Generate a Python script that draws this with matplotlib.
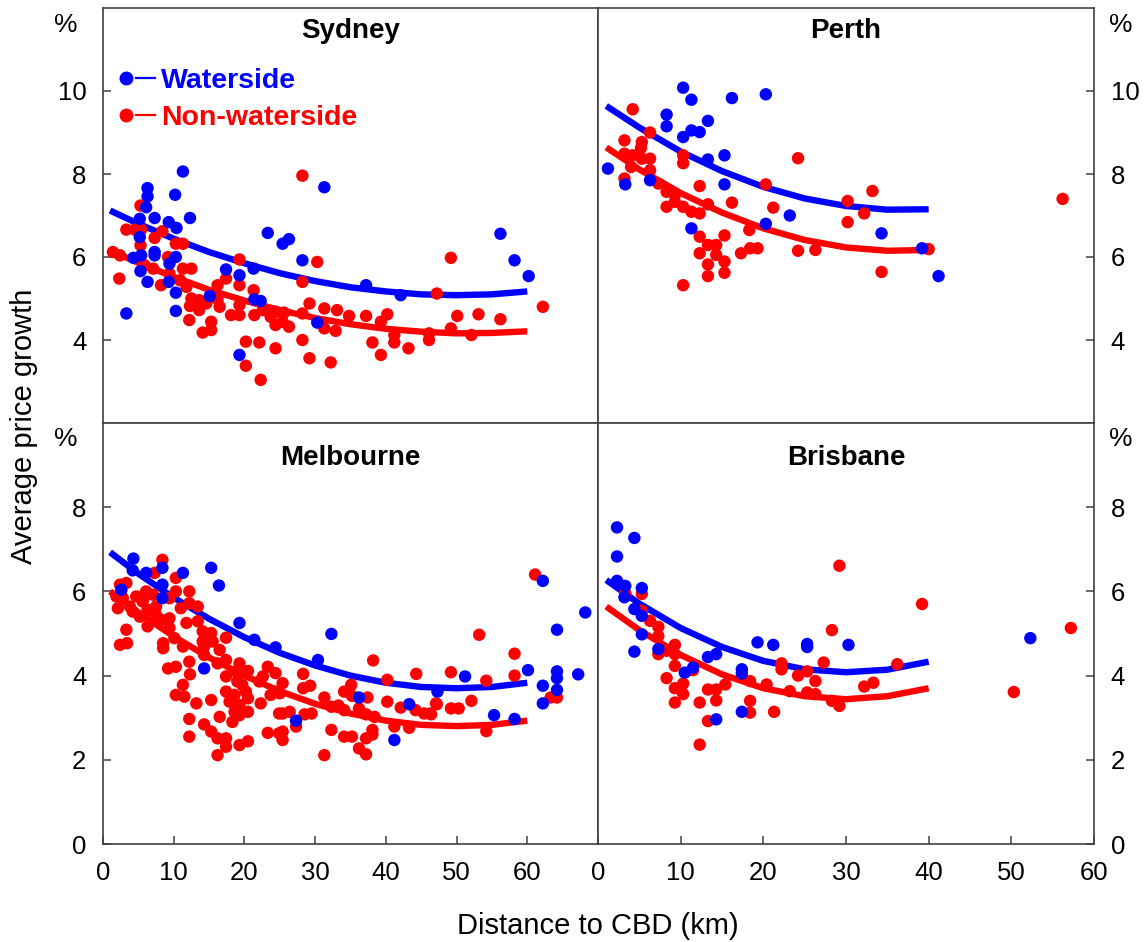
import numpy as np
import matplotlib
matplotlib.use('Agg')
import matplotlib.pyplot as plt

plt.rcParams['font.family'] = ['Liberation Sans', 'DejaVu Sans']

BLUE = '#0000ff'
RED = '#ff0000'
FRAME = '#404040'

# ---- data: (distance km, growth %) ----
syd_water = [(11.3, 8.06), (6.3, 7.66), (6.3, 7.46), (10.2, 7.50), (6.1, 7.20), (5.2, 6.92),
             (7.3, 6.94), (12.3, 6.94), (9.3, 6.84), (10.4, 6.70), (5.2, 6.48), (7.3, 6.12),
             (7.3, 6.04), (4.3, 5.98), (5.4, 6.04), (10.3, 6.00), (9.4, 5.84), (5.3, 5.66),
             (6.3, 5.40), (9.3, 5.40), (10.3, 5.14), (3.3, 4.64), (10.3, 4.70), (15.1, 5.06),
             (17.4, 5.70), (19.3, 5.56), (21.3, 5.72), (21.4, 4.98), (22.3, 4.94), (23.3, 6.58),
             (25.4, 6.32), (26.3, 6.43), (28.2, 5.92), (31.3, 7.68), (30.3, 4.42), (19.3, 3.64),
             (56.2, 6.56), (58.2, 5.92), (60.2, 5.54), (37.2, 5.32), (42.1, 5.08)]
syd_non = [(28.2, 7.96), (5.3, 7.24), (3.3, 6.66), (4.5, 6.66), (5.4, 6.66), (7.3, 6.46),
           (8.4, 6.62), (5.3, 6.28), (10.3, 6.32), (11.3, 6.32), (1.4, 6.12), (2.4, 6.04),
           (9.2, 6.00), (2.3, 5.48), (5.9, 5.80), (7.1, 5.72), (8.2, 5.32), (9.4, 5.60),
           (11.3, 5.72), (12.5, 5.72), (10.9, 5.44), (11.8, 5.28), (19.3, 5.94), (19.3, 5.32),
           (17.4, 5.48), (16.2, 5.32), (21.3, 5.20), (12.5, 5.00), (12.3, 4.82), (13.6, 4.96),
           (13.6, 4.72), (14.6, 4.88), (16.2, 4.98), (16.5, 4.80), (12.2, 4.48), (15.3, 4.44),
           (14.1, 4.18), (15.3, 4.24), (18.1, 4.60), (19.3, 4.60), (19.3, 4.84), (21.4, 4.60),
           (22.6, 4.72), (23.7, 4.56), (24.4, 4.36), (25.4, 4.44), (26.3, 4.32), (24.4, 4.68),
           (25.6, 4.66), (28.2, 4.64), (28.2, 4.00), (29.2, 4.88), (31.3, 4.76), (33.1, 4.72),
           (34.8, 4.58), (32.9, 4.22), (31.3, 4.28), (24.4, 3.80), (20.2, 3.96), (22.1, 3.94),
           (28.2, 5.40), (30.3, 5.88), (29.2, 3.56), (32.2, 3.46), (20.2, 3.38), (22.3, 3.04),
           (49.2, 5.98), (47.2, 5.12), (62.2, 4.80), (37.2, 4.58), (40.2, 4.62), (39.3, 4.44),
           (38.1, 3.94), (39.3, 3.64), (41.2, 4.12), (41.2, 3.94), (43.2, 3.80), (46.1, 4.16),
           (46.1, 4.00), (49.2, 4.28), (50.1, 4.58), (52.1, 4.12), (53.1, 4.62), (56.2, 4.50)]

per_water = [(10.3, 10.08), (11.3, 9.79), (16.2, 9.83), (20.3, 9.92), (8.3, 9.43), (8.3, 9.15),
             (13.3, 9.28), (10.3, 8.89), (11.3, 9.05), (12.3, 9.01), (13.3, 8.35), (15.3, 8.45),
             (1.2, 8.13), (3.3, 7.75), (6.3, 7.85), (15.3, 7.75), (11.3, 6.69), (20.3, 6.80),
             (23.2, 7.00), (34.3, 6.57), (39.2, 6.21), (41.2, 5.54)]
per_non = [(4.2, 9.56), (6.3, 9.00), (3.2, 8.81), (5.3, 8.77), (5.2, 8.63), (3.2, 8.49),
           (4.2, 8.45), (5.3, 8.37), (6.3, 8.37), (4.0, 8.17), (6.3, 8.09), (10.3, 8.45),
           (10.3, 8.26), (3.2, 7.89), (7.3, 7.77), (8.3, 7.57), (9.3, 7.49), (8.3, 7.21),
           (9.3, 7.33), (10.3, 7.21), (11.3, 7.09), (12.3, 7.05), (13.3, 7.27), (12.3, 7.71),
           (16.2, 7.31), (20.3, 7.75), (21.2, 7.19), (24.2, 8.38), (18.3, 6.65), (12.3, 6.49),
           (15.3, 6.52), (13.3, 6.29), (14.3, 6.29), (12.3, 6.09), (14.3, 6.05), (13.3, 5.82),
           (15.3, 5.89), (13.3, 5.54), (15.3, 5.62), (10.3, 5.32), (17.3, 6.09), (18.4, 6.21),
           (19.3, 6.21), (24.2, 6.15), (26.3, 6.17), (30.2, 7.35), (30.2, 6.84), (32.2, 7.05),
           (33.2, 7.59), (34.3, 5.64), (40.0, 6.19), (56.2, 7.40)]

mel_water = [(4.3, 6.78), (8.4, 6.56), (11.3, 6.44), (15.3, 6.56), (16.4, 6.14), (6.1, 6.44),
             (8.4, 6.16), (2.6, 6.04), (8.4, 5.84), (19.3, 5.25), (14.3, 4.17), (21.4, 4.85),
             (24.4, 4.67), (4.2, 6.50), (32.3, 4.99), (30.4, 4.37), (36.2, 3.48), (43.3, 3.32),
             (27.3, 2.93), (41.2, 2.47), (47.3, 3.62), (62.2, 6.25), (68.2, 5.50), (64.2, 5.09),
             (60.1, 4.13), (64.2, 4.10), (64.2, 3.94), (67.2, 4.03), (62.2, 3.76), (64.2, 3.66),
             (62.2, 3.34), (51.2, 3.98), (55.3, 3.06), (58.2, 2.97)]
mel_non = [(8.4, 6.75), (7.3, 6.44), (10.3, 6.32), (2.4, 6.16), (3.3, 6.20), (1.9, 5.88),
           (2.8, 5.84), (4.7, 5.88), (6.1, 6.00), (7.1, 5.92), (9.4, 5.84), (10.3, 6.00),
           (12.2, 6.00), (2.1, 5.60), (3.8, 5.64), (5.2, 5.40), (6.3, 5.56), (7.5, 5.64),
           (9.4, 5.36), (11.0, 5.60), (13.4, 5.64), (12.2, 5.72), (3.3, 5.09), (6.3, 5.17),
           (2.4, 4.73), (3.4, 4.77), (8.5, 4.77), (8.5, 4.65), (10.1, 4.89), (11.3, 4.69),
           (13.4, 5.29), (15.3, 5.01), (17.4, 4.90), (14.3, 4.69), (16.5, 4.61), (14.3, 4.49),
           (9.2, 4.17), (10.3, 4.21), (12.2, 4.33), (12.3, 4.03), (17.4, 4.37), (16.2, 4.29),
           (17.4, 3.98), (19.3, 4.29), (20.5, 4.11), (19.0, 3.86), (23.3, 4.21), (24.4, 4.06),
           (11.3, 3.78), (10.3, 3.54), (11.5, 3.50), (13.2, 3.34), (15.3, 3.42), (17.4, 3.62),
           (18.6, 3.54), (17.9, 3.38), (20.2, 3.62), (19.3, 3.30), (22.3, 3.34), (23.7, 3.54),
           (16.5, 3.02), (12.2, 2.97), (14.3, 2.84), (18.3, 2.90), (19.3, 3.06), (20.5, 3.14),
           (15.3, 2.67), (16.2, 2.51), (12.2, 2.55), (17.4, 2.51), (19.3, 2.35), (20.5, 2.44),
           (23.3, 2.64), (24.9, 3.10), (24.9, 2.63), (16.2, 2.11), (17.4, 2.31),
           (5.6, 5.76), (4.2, 5.52), (7.5, 5.44), (5.9, 5.88), (8.2, 5.33), (9.4, 5.13),
           (11.8, 5.25), (14.1, 5.05), (15.5, 4.81), (14.1, 4.81), (18.8, 4.10), (19.7, 3.78),
           (18.6, 3.14), (20.5, 3.46), (24.4, 3.62), (22.1, 3.86), (22.6, 3.98),
           (38.2, 4.36), (44.3, 4.04), (40.2, 3.90), (28.3, 4.04), (29.3, 3.76), (28.3, 3.70),
           (25.4, 3.82), (25.0, 3.58), (35.1, 3.78), (34.1, 3.62), (35.2, 3.52), (37.4, 3.48),
           (31.3, 3.48), (40.2, 3.38), (42.1, 3.24), (44.2, 3.18), (45.4, 3.10), (46.4, 3.08),
           (47.1, 3.34), (26.4, 3.14), (25.4, 3.10), (28.5, 3.08), (29.5, 3.10), (32.3, 3.26),
           (33.3, 3.29), (34.1, 3.18), (36.2, 3.22), (37.2, 3.08), (38.4, 3.02), (41.2, 2.79),
           (43.3, 2.76), (25.4, 2.67), (25.4, 2.47), (27.3, 2.79), (32.3, 2.71), (34.1, 2.55),
           (35.2, 2.55), (38.1, 2.71), (37.2, 2.51), (36.2, 2.27), (37.2, 2.13), (31.3, 2.11),
           (38.1, 2.60),
           (61.1, 6.40), (53.2, 4.97), (58.2, 4.52), (49.2, 4.08), (54.2, 3.88), (58.2, 4.00),
           (52.1, 3.40), (47.2, 3.32), (49.2, 3.22), (50.3, 3.22), (46.3, 3.10), (63.3, 3.48),
           (64.2, 3.48), (54.2, 2.68)]

bri_water = [(2.3, 7.52), (4.4, 7.27), (2.3, 6.83), (2.3, 6.25), (3.3, 6.13), (5.3, 6.08),
             (3.2, 5.86), (4.4, 5.58), (5.3, 5.42), (5.3, 4.98), (4.4, 4.57), (7.3, 4.63),
             (10.5, 4.07), (11.5, 4.19), (13.3, 4.44), (14.3, 4.51), (17.4, 4.15), (17.4, 4.05),
             (17.4, 3.14), (14.3, 2.96), (19.3, 4.79), (21.2, 4.73), (25.3, 4.75), (25.3, 4.68),
             (30.3, 4.73), (52.3, 4.89)]
bri_non = [(3.3, 5.95), (5.3, 5.94), (5.3, 5.54), (6.3, 5.30), (7.3, 5.16), (7.3, 4.94),
           (7.3, 4.51), (8.3, 4.59), (9.3, 4.73), (9.3, 4.51), (9.3, 4.23), (8.3, 3.94),
           (9.3, 3.70), (10.3, 3.81), (9.3, 3.36), (10.3, 3.56), (11.5, 4.13), (12.3, 3.36),
           (13.3, 3.67), (14.3, 3.67), (15.4, 3.79), (14.3, 3.41), (13.3, 2.92), (12.3, 2.36),
           (18.4, 3.87), (18.4, 3.40), (18.4, 3.12), (20.4, 3.79), (21.3, 3.14), (22.2, 4.29),
           (22.2, 4.15), (23.2, 3.63), (24.2, 4.00), (25.3, 4.10), (26.3, 3.87), (25.3, 3.60),
           (26.3, 3.56), (27.3, 4.31), (28.3, 5.08), (29.2, 6.61), (28.3, 3.40), (29.2, 3.28),
           (39.2, 5.70), (36.2, 4.27), (32.2, 3.74), (33.3, 3.83), (57.2, 5.13), (50.3, 3.61)]

# fitted trend lines
fit_x_long = [1, 5, 10, 15, 20, 25, 30, 35, 40, 45, 50, 55, 60]
fit_x_short = [1, 5, 10, 15, 20, 25, 30, 35, 40]
syd_fit_water = [7.12, 6.80, 6.44, 6.12, 5.85, 5.61, 5.42, 5.27, 5.17, 5.10, 5.08, 5.10, 5.17]
syd_fit_non = [6.16, 5.86, 5.52, 5.21, 4.95, 4.72, 4.53, 4.38, 4.27, 4.20, 4.16, 4.17, 4.21]
mel_fit_water = [6.93, 6.42, 5.85, 5.35, 4.91, 4.54, 4.24, 4.00, 3.83, 3.73, 3.70, 3.73, 3.83]
mel_fit_non = [6.00, 5.50, 4.93, 4.43, 4.00, 3.63, 3.33, 3.10, 2.93, 2.83, 2.80, 2.83, 2.93]
per_fit_water = [9.64, 9.12, 8.54, 8.07, 7.69, 7.41, 7.23, 7.14, 7.15]
per_fit_non = [8.64, 8.11, 7.54, 7.07, 6.69, 6.41, 6.23, 6.15, 6.17]
bri_fit_water = [6.27, 5.71, 5.13, 4.68, 4.35, 4.15, 4.08, 4.14, 4.33]
bri_fit_non = [5.64, 5.08, 4.49, 4.03, 3.70, 3.51, 3.44, 3.51, 3.70]

W, H = 1148, 942
fig = plt.figure(figsize=(W / 100, H / 100), dpi=100)


def px_axes(x0, y0, x1, y1):
    return fig.add_axes([x0 / W, 1 - y1 / H, (x1 - x0) / W, (y1 - y0) / H])


ax_syd = px_axes(103, 8, 598, 423)
ax_per = px_axes(598, 8, 1094, 423)
ax_mel = px_axes(103, 423, 598, 844)
ax_bri = px_axes(598, 423, 1094, 844)

panels = [
    (ax_syd, 'Sydney', syd_water, syd_non, fit_x_long, syd_fit_water, syd_fit_non, (0, 70), (2, 12), 0.928),
    (ax_per, 'Perth', per_water, per_non, fit_x_short, per_fit_water, per_fit_non, (0, 60), (2, 12), 0.928),
    (ax_mel, 'Melbourne', mel_water, mel_non, fit_x_long, mel_fit_water, mel_fit_non, (0, 70), (0, 10), 0.900),
    (ax_bri, 'Brisbane', bri_water, bri_non, fit_x_short, bri_fit_water, bri_fit_non, (0, 60), (0, 10), 0.900),
]

MS = 80
for ax, name, water, non, fx, fw, fn, xl, yl, ty in panels:
    wx, wy = np.array(water).T
    nx, ny = np.array(non).T
    ax.plot(fx, fw, color=BLUE, lw=4.6, solid_capstyle='butt', zorder=2)
    ax.plot(fx, fn, color=RED, lw=4.6, solid_capstyle='butt', zorder=2)
    ax.scatter(nx, ny, s=MS, color=RED, edgecolors='none', zorder=3)
    ax.scatter(wx, wy, s=MS, color=BLUE, edgecolors='none', zorder=4)
    ax.set_xlim(*xl)
    ax.set_ylim(*yl)
    ax.text(0.5, ty, name, transform=ax.transAxes, ha='center', va='baseline',
            fontsize=20, fontweight='bold')
    for sp in ax.spines.values():
        sp.set_color(FRAME)
        sp.set_linewidth(1.2)
    ax.tick_params(which='both', direction='in', length=6, width=1.1, color=FRAME,
                   pad=12, labelsize=18.5)

# y ticks
for ax in (ax_syd, ax_per):
    ax.set_yticks([4, 6, 8, 10])
for ax in (ax_mel, ax_bri):
    ax.set_yticks([0, 2, 4, 6, 8])
for ax in (ax_per, ax_bri):
    ax.yaxis.tick_right()
for ax in (ax_syd, ax_per):
    ax.tick_params(axis='x', bottom=False, labelbottom=False)
ax_mel.set_xticks([0, 10, 20, 30, 40, 50, 60])
ax_bri.set_xticks([0, 10, 20, 30, 40, 50, 60])

# legend in Sydney panel
for col, ty, label in [(BLUE, 0.807, 'Waterside'), (RED, 0.718, 'Non-waterside')]:
    ax_syd.plot([0.047], [ty + 0.025], 'o', ms=9, color=col, transform=ax_syd.transAxes,
                clip_on=False, zorder=5)
    ax_syd.plot([0.066, 0.105], [ty + 0.025] * 2, color=col, lw=1.6,
                transform=ax_syd.transAxes, zorder=5)
    ax_syd.text(0.118, ty, label, color=col, transform=ax_syd.transAxes,
                ha='left', va='baseline', fontsize=20.5, fontweight='bold')

# % markers over the y axes
for xp, yp in [(66, 25), (1121, 25), (66, 439), (1121, 439)]:
    fig.text(xp / W, 1 - yp / H, '%', ha='center', va='center', fontsize=19)

fig.text(24 / W, 1 - 426 / H, 'Average price growth', rotation=90,
         ha='center', va='center', fontsize=21)
fig.text(598 / W, 1 - 926 / H, 'Distance to CBD (km)', ha='center', va='center', fontsize=21)

fig.savefig('out.png', dpi=100)
